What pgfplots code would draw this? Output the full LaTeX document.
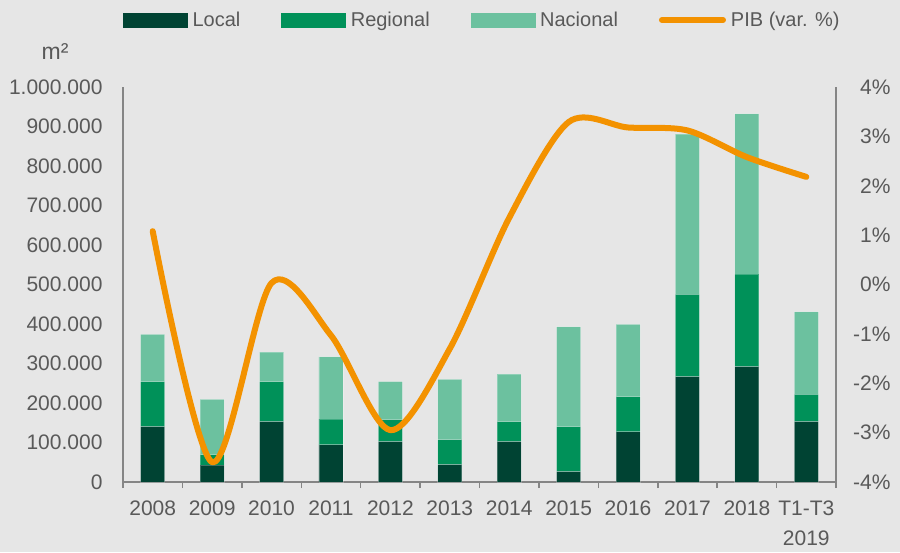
\documentclass[border=0pt]{standalone}
\usepackage{fontspec}
\setmainfont{Liberation Sans}
\usepackage{pgfplots}
\pgfplotsset{compat=1.18}
\definecolor{bg}{HTML}{E6E6E6}
\definecolor{cLocal}{HTML}{004333}
\definecolor{cReg}{HTML}{009159}
\definecolor{cNac}{HTML}{6CC19F}
\definecolor{cPIB}{HTML}{F39200}
\definecolor{axgray}{HTML}{858585}
\definecolor{txt}{HTML}{595959}
\begin{document}
\begin{tikzpicture}[x=1pt,y=1pt]
\path[use as bounding box, fill=bg] (0,0) rectangle (900,552);
\pgfplotsset{common/.style={scale only axis, width=713pt, height=395pt,
  at={(123pt,70pt)}, anchor=south west, xmin=-0.5, xmax=11.5,
  font=\fontsize{21}{30}\selectfont, tick label style={text=txt},
  /pgf/number format/assume math mode=true,
  axis line style={draw=axgray, line width=1.5pt, -}}}
\begin{axis}[common, ymin=0, ymax=1000000, ybar stacked, bar width=24pt,
  axis x line*=bottom, axis y line*=left,
  ytick={0,100000,200000,300000,400000,500000,600000,700000,800000,900000,1000000},
  scaled y ticks=false,
  yticklabel style={xshift=-17pt, /pgf/number format/fixed, /pgf/number format/1000 sep={.}},
  major tick length=0pt,
  xtick={0,1,2,3,4,5,6,7,8,9,10,11},
  xticklabels={2008,2009,2010,2011,2012,2013,2014,2015,2016,2017,2018,{T1-T3\\2019}},
  xticklabel style={align=center, yshift=-15pt},
  extra x ticks={-0.5,0.5,1.5,2.5,3.5,4.5,5.5,6.5,7.5,8.5,9.5,10.5,11.5},
  extra x tick labels={},
  extra x tick style={major tick length=6pt, tick align=outside, major tick style={draw=axgray, line width=1.5pt}},
  every axis plot/.append style={draw=white, draw opacity=0.25, line width=0.8pt},
]
\addplot[fill=cLocal] coordinates {(0,140000) (1,43000) (2,153000) (3,94000) (4,102000) (5,44000) (6,102000) (7,26000) (8,127000) (9,267000) (10,292000) (11,153000)};
\addplot[fill=cReg] coordinates {(0,114000) (1,26000) (2,101000) (3,65000) (4,56000) (5,63000) (6,51000) (7,114000) (8,89000) (9,208000) (10,234000) (11,69000)};
\addplot[fill=cNac] coordinates {(0,120000) (1,140000) (2,75000) (3,158000) (4,96000) (5,153000) (6,120000) (7,253000) (8,183000) (9,406000) (10,406000) (11,209000)};
\end{axis}
\begin{axis}[common, ymin=-4, ymax=4,
  axis y line*=right, axis x line=none,
  ytick={-4,-3,-2,-1,0,1,2,3,4},
  yticklabel={\pgfmathprintnumber{\tick}\%},
  yticklabel style={anchor=east, xshift=58pt},
  major tick length=0pt,
  xtick=\empty,
  legend columns=4,
  legend style={at={(rel axis cs:0,1)}, anchor=west, yshift=67pt, draw=none, fill=none, inner sep=0pt,
    font=\fontsize{20}{24}\selectfont, text=txt, nodes={inner xsep=5pt},
    /tikz/every even column/.append style={column sep=36pt}},
  legend cell align=left,
]
\addlegendimage{legend image code/.code={\fill[cLocal] (0pt,-7pt) rectangle (64pt,7pt);}}
\addlegendimage{legend image code/.code={\fill[cReg] (0pt,-7pt) rectangle (64pt,7pt);}}
\addlegendimage{legend image code/.code={\fill[cNac] (0pt,-7pt) rectangle (64pt,7pt);}}
\addlegendimage{legend image code/.code={\draw[cPIB, line width=6pt, line cap=round] (3pt,0pt) -- (64pt,0pt);}}
\addplot[cPIB, line width=6pt, smooth, line cap=round, line join=round, forget plot] coordinates {(0,1.08) (1,-3.6) (2,0.03) (3,-1.03) (4,-2.95) (5,-1.3) (6,1.35) (7,3.29) (8,3.18) (9,3.12) (10,2.58) (11,2.18)};
\legend{Local,Regional,Nacional,PIB (var. \%)}
\end{axis}
\node[text=txt, font=\fontsize{23}{26}\selectfont] at (55,500) {m²};
\end{tikzpicture}
\end{document}
